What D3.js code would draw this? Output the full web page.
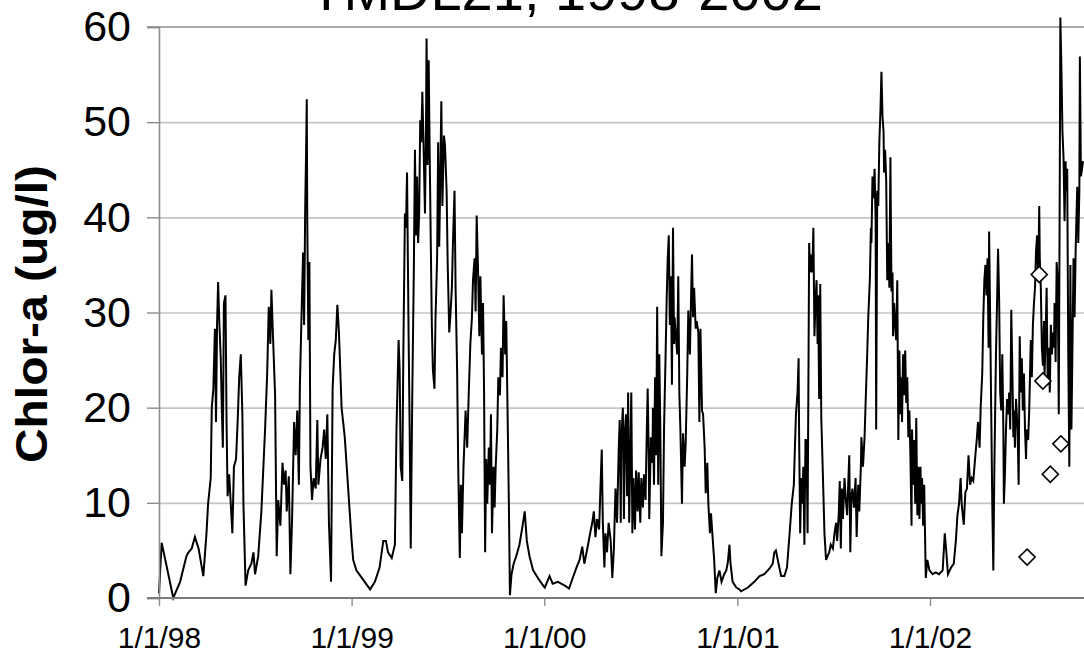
<!DOCTYPE html>
<html>
<head>
<meta charset="utf-8">
<script src="https://cdn.jsdelivr.net/npm/d3@7"></script>
<style>
	body { margin: 0; background: #fff; }
	svg { display: block; font-family: Arial, "Liberation Sans", sans-serif; }
</style>
</head>
<body>
<script>
//chlorophyll-a time series, TMDL21 station, 1998-2002
//days are counted from 1/1/98

var titleText = "TMDL21, 1998-2002";
var yLabelText = "Chlor-a (ug/l)";

var yTicks = [0, 10, 20, 30, 40, 50, 60];
var xTickYears = [1998, 1999, 2000, 2001, 2002];
var xTickLabels = ["1/1/98", "1/1/99", "1/1/00", "1/1/01", "1/1/02"];

//modelled series (line)
var seriesDays = [
	0,5,15,27,40,52,56,62,68,75,
	84,90,93,98,100,103,106,108,110,112,
	114,117,119,121,123,126,128,130,133,136,
	139,142,146,149,152,155,158,160,164,169,
	175,179,182,188,194,201,205,208,211,213,
	216,220,223,226,230,234,237,240,242,246,
	249,252,256,259,262,265,267,270,273,275,
	277,279,280,281,283,285,287,290,293,297,
	300,302,306,310,313,316,319,322,326,329,
	332,335,338,341,346,352,358,365,
	368,374,387,400,409,418,425,430,434,441,
	447,450,454,456,458,461,463,466,468,470,
	473,475,477,480,483,485,487,489,491,493,
	495,497,499,501,504,506,507,509,511,513,
	515,517,519,522,524,527,529,531,533,535,
	537,540,542,545,547,550,552,555,557,560,
	562,565,567,570,572,574,577,581,584,587,
	590,593,595,598,600,602,605,607,609,612,
	614,616,618,620,622,625,627,629,631,634,
	636,638,641,643,646,648,651,653,656,658,
	660,663,665,668,672,677,683,689,693,697,
	702,709,718,728,
	731,740,746,756,762,769,777,784,791,797,
	802,806,813,817,821,824,827,830,834,836,
	839,841,844,846,849,852,856,859,862,865,
	868,871,873,875,876,879,881,883,885,887,
	889,891,893,895,897,899,902,904,907,909,
	912,914,917,919,922,924,926,928,929,932,
	935,936,938,940,942,944,946,948,950,952,
	955,957,960,962,964,966,968,970,972,974,
	976,977,980,982,984,986,988,991,993,996,
	998,1001,1003,1006,1008,1010,1012,1014,1017,1019,
	1022,1024,1026,1029,1031,1034,1036,1039,1041,1044,
	1046,1049,1052,1055,1058,1062,1066,1071,1075,1078,
	1081,1083,1087,1094,1100,
	1103,1116,1128,1138,1147,1157,1163,1166,1169,1174,
	1179,1185,1190,1195,1199,1203,1205,1207,1210,1212,
	1213,1215,1217,1219,1221,1223,1225,1227,1229,1231,
	1232,1234,1236,1238,1240,1242,1244,1246,1248,1249,
	1251,1253,1255,1258,1261,1264,1267,1270,1273,1277,
	1280,1283,1285,1288,1290,1292,1294,1296,1299,1301,
	1304,1306,1308,1310,1312,1314,1317,1320,1322,1325,
	1327,1330,1331,1334,1337,1339,1342,1344,1347,1349,
	1350,1352,1354,1356,1358,1359,1361,1363,1365,1367,
	1369,1371,1373,1374,1376,1378,1380,1382,1384,1386,
	1388,1390,1391,1393,1395,1397,1399,1401,1403,1405,
	1407,1408,1410,1412,1414,1416,1418,1420,1422,1424,
	1426,1427,1429,1431,1433,1435,1437,1439,1441,1443,
	1444,1446,1448,
	1450,1453,1456,1460,1466,1472,1478,1485,1489,1492,
	1495,1501,1506,1510,1513,1516,1519,1521,1525,1528,
	1531,1534,1537,1540,1543,1547,1550,1552,1555,1557,
	1560,1562,1564,1566,1568,1570,1572,1573,1575,1577,
	1579,1581,1583,1584,1586,1588,1590,1592,1594,1596,
	1598,1600,1601,1603,1605,1607,1609,1611,1613,1615,
	1617,1619,1620,1622,1624,1627,1629,1631,1633,1635,
	1637,1639,1641,1643,1644,1647,1649,1652,1654,1656,
	1658,1660,1662,1664,1666,1668,1669,1671,1673,1675,
	1677,1678,1680,1682,1684,1686,1688,1690,1692,1694,
	1696,1697,1699,1701,1703,1705,1707,1708,1710,1712,
	1714,1716,1718,1719,1721,1723,1725,1727,1729,1731,
	1733,1735,1737,1738,1740,1742,1744,1745,1747,1749,
	1751
];

var seriesValues = [
	0.5,5.8,3.2,0,1.7,4.4,4.8,5.2,6.4,5.2,
	2.3,6.8,9.9,12.6,20,22,28.3,18.5,28.7,33.2,
	29.5,25.2,20,15.8,31,31.8,18.5,10.7,13,9.9,
	6.8,13.8,14.6,18.5,23.2,25.6,19.3,9.9,1.3,2.9,
	3.6,4.8,2.5,4.4,9.1,17.7,23.6,30.6,26.7,32.4,
	27.5,21.3,4.4,10.3,7.6,14.2,11.9,13.4,9.1,12.8,
	2.5,7.9,18.5,15,19.7,11.9,22.4,29.5,36.3,28.7,
	40.8,47.9,52.4,39.3,27.1,35.3,13.8,10.3,12.6,11.5,
	18.7,11.9,14.6,15.8,17.7,14.6,19.3,7.9,1.7,22,
	25.6,27.1,30.8,27.9,20,16.9,11.9,6,
	4,2.9,1.9,0.9,1.7,3.2,6,6,4.8,4.2,
	5.6,17.7,27.1,24,13.8,12.3,25.6,40.4,38.9,44.7,
	27.5,17.7,5.2,21.6,35,47.1,38.1,44.3,37.3,40.4,
	50.2,47.9,53.2,48.3,40.4,49.8,58.8,45.5,56.5,46.3,
	37.3,28.7,24,22,29.5,35.7,47.9,36.9,43.9,52.2,
	41.2,48.6,47.5,42.8,35.3,27.9,29.5,32.6,37.3,42.8,
	32.6,23.6,13.8,4.2,11.9,6.8,13.8,19.7,15.8,21.6,
	26.7,29.5,33.4,35.7,30.1,40.2,33.4,27.5,33.8,25.6,
	31,21.6,4.8,14.6,9.9,15.8,11.9,19.3,6.8,13.8,
	9.5,13.8,17.7,23.2,21.3,26.3,23.2,31.8,25.6,29.1,
	21.6,9.9,0.3,2.5,3.6,4.4,5.6,7.6,9.1,6,
	4.4,2.9,2.1,1.3,
	1.1,2.3,1.5,1.7,1.5,1.3,1,2.1,3.2,4,
	5.4,3.6,5.6,6.8,7.9,9.1,6.4,8.3,7.2,10.7,
	15.6,7.9,3.2,6.8,4.8,7.9,6,2.1,5.2,11.5,
	7.9,15.4,18.7,7.9,16.6,20,8.3,17.7,19.3,10.7,
	21.6,7.9,14.6,21.6,6.8,12.6,7.2,13.4,9.1,13.2,
	7.9,12.6,9.5,13,10.3,16.6,22,15,8.3,16.9,
	14.2,20,11.9,23.2,15,30.6,11.9,25.6,17.7,4.4,
	7.9,17.7,25.6,31.4,35.7,38.1,28.7,33.8,22.4,38.9,
	26.7,29.5,27.1,25.6,33.8,21.6,17.7,9.9,17.3,13.8,
	16.2,23.6,30.2,25.6,31,36.1,29.5,32.6,28.3,29.1,
	27.9,18.5,28.3,19.7,19.3,15.8,11,14.2,9.9,6.8,
	8.9,6.4,4,0.5,2.1,2.9,1.7,2.5,2.9,3.8,
	5.6,3.6,1.7,1.1,0.9,
	0.7,1.1,1.7,2.3,2.5,3.1,3.6,4.8,5,3.6,
	2.3,2.3,3.2,6.8,9.9,11.9,15.8,19.3,21.6,25.2,
	16.9,6.8,12.6,9.9,13.8,5.6,16.6,16.6,6.8,26.7,
	37.3,34.2,36.1,34.2,38.9,27.5,31,33.4,26.7,31.8,
	20.9,33,18.9,13,6.8,4,4.4,4.8,5.6,5.2,
	6.8,7.9,6,8.7,12.3,5.2,11.5,8.3,12.6,10.7,
	8.7,11.9,15,4.8,10.7,11.5,9.5,12.6,6.4,11.9,
	9.1,13.8,16.9,13.8,16.9,20.5,25.6,29.5,33.4,38.9,
	37.3,44.3,42,45.1,39.6,17.7,42.8,41.2,47.9,51,
	55.3,50.6,49,44.7,47.1,43.9,33.4,37.3,32.6,46.3,
	32.2,34.2,27.5,31,28.7,27.1,33.4,16.6,26,19.3,
	23.2,18.5,25.6,21.3,26,20.5,23.2,16.9,19.7,14.6,
	7.6,17.7,11.9,16.6,9.9,18.9,8.7,13.8,8.3,13.8,
	9.9,12.6,7.6,
	11.9,2.1,4,2.9,2.5,2.7,2.5,2.9,6.8,4.8,
	2.5,3.2,3.6,6,8.7,9.9,12.6,9.9,7.7,11.1,
	11.5,15,11.9,12.6,12.3,15,16.9,18.5,15.8,20,
	23.6,29.5,33.4,35,31.8,35.7,26.3,38.5,29.5,19.7,
	9.9,2.9,13.8,17.7,25.6,31,36.7,31.4,21.6,19.7,
	25.6,17.7,9.9,13,17.7,20.9,19.3,21.6,17.7,30.3,
	24,16.9,19.7,15.8,20.9,17.7,11.9,27.5,21.6,25.2,
	19.7,23.6,17.7,14.6,17.7,16.6,19.7,27.1,23.2,28.7,
	31,32.6,36.5,38.1,33.4,41.2,35.7,32.6,26.3,24.4,
	29.1,23.2,27.5,32.6,22.4,26.3,21.6,28.7,25.6,27.9,
	26.3,31,24.8,35.3,33.4,19.3,45.1,61,55.7,49,
	46.3,39.6,45.9,42.8,45.1,25.6,13.8,35,17.7,26.7,
	35.7,29.5,36.5,38.9,43.2,37.3,42.8,56.9,44.3,45.1,
	45.9
];

//field samples (diamonds)
var sampleDays = [1645, 1668, 1675, 1689, 1709];
var sampleValues = [4.3, 34, 22.8, 13, 16.2];

//frame
var width = 1084,
	height = 654,
	plotLeft = 159,
	plotRight = 1100,
	plotTop = 27,
	plotBottom = 598;

var startTime = Date.UTC(1998, 0, 1);

function dayToDate(d){
	return new Date(startTime + d * 864e5);
}

window.onload = setChart;

function setChart(){

	var svg = d3.select("body")
		.append("svg")
		.attr("width", width)
		.attr("height", height);

	var x = d3.scaleUtc()
		.domain([new Date(Date.UTC(1998, 0, 1)), new Date(Date.UTC(2002, 0, 1))])
		.range([plotLeft, 930]);

	var y = d3.scaleLinear()
		.domain([0, 60])
		.range([plotBottom, plotTop]);

	//horizontal gridlines
	var grid = svg.append("g")
		.attr("class", "grid")
		.attr("transform", "translate(" + plotLeft + ",0)")
		.call(d3.axisLeft(y)
			.tickValues(yTicks.slice(1, -1))
			.tickSize(-(plotRight - plotLeft))
			.tickFormat(""));
	grid.select(".domain").remove();
	grid.selectAll("line")
		.attr("stroke", "#c4c4c4")
		.attr("stroke-width", 1.6);

	//top frame line
	svg.append("line")
		.attr("x1", plotLeft - 12)
		.attr("x2", plotRight)
		.attr("y1", y(60))
		.attr("y2", y(60))
		.attr("stroke", "#8c8c8c")
		.attr("stroke-width", 1.6);

	//series line
	var points = seriesDays.map(function(d, i){
		return {date: dayToDate(d), value: seriesValues[i]};
	});

	var line = d3.line()
		.x(function(d){ return x(d.date); })
		.y(function(d){ return y(d.value); });

	svg.append("path")
		.datum(points)
		.attr("class", "series")
		.attr("fill", "none")
		.attr("stroke", "#000")
		.attr("stroke-width", 2)
		.attr("stroke-linejoin", "miter")
		.attr("d", line);

	//y axis
	var yAxis = svg.append("g")
		.attr("class", "axis")
		.attr("transform", "translate(" + plotLeft + ",0)")
		.call(d3.axisLeft(y)
			.tickValues(yTicks)
			.tickSize(12)
			.tickPadding(16));
	yAxis.select(".domain")
		.attr("stroke", "#8c8c8c")
		.attr("stroke-width", 1.6);
	yAxis.selectAll(".tick line")
		.attr("stroke", "#8c8c8c")
		.attr("stroke-width", 1.4);
	yAxis.selectAll("text")
		.attr("font-size", 43)
		.attr("font-family", "Arial, 'Liberation Sans', sans-serif")
		.attr("fill", "#000");

	//x axis
	var tickDates = xTickYears.map(function(yr){
		return new Date(Date.UTC(yr, 0, 1));
	});

	var xAxis = svg.append("g")
		.attr("class", "axis")
		.attr("transform", "translate(0," + plotBottom + ")")
		.call(d3.axisBottom(x)
			.tickValues(tickDates)
			.tickSize(8)
			.tickPadding(21)
			.tickFormat(function(d, i){ return xTickLabels[i]; }));
	xAxis.select(".domain").remove();
	xAxis.selectAll(".tick line")
		.attr("stroke", "#8c8c8c")
		.attr("stroke-width", 1.4);
	xAxis.selectAll("text")
		.attr("font-size", 30)
		.attr("font-family", "Arial, 'Liberation Sans', sans-serif")
		.attr("fill", "#000");

	svg.append("line")
		.attr("x1", plotLeft - 12)
		.attr("x2", plotRight)
		.attr("y1", plotBottom)
		.attr("y2", plotBottom)
		.attr("stroke", "#7a7a7a")
		.attr("stroke-width", 2);

	//sample diamonds
	var diamond = d3.symbol()
		.type(d3.symbolSquare)
		.size(130);

	svg.selectAll(".sample")
		.data(sampleDays)
		.enter()
		.append("path")
		.attr("class", "sample")
		.attr("d", diamond)
		.attr("transform", function(d, i){
			return "translate(" + x(dayToDate(d)) + "," + y(sampleValues[i]) + ")rotate(45)";
		})
		.attr("fill", "#fff")
		.attr("stroke", "#000")
		.attr("stroke-width", 1.6);

	//title (cut off by the top edge, as in the source figure)
	svg.append("text")
		.attr("class", "chartTitle")
		.attr("x", 566)
		.attr("y", 10)
		.attr("text-anchor", "middle")
		.attr("font-size", 56)
		.text(titleText);

	//y label
	svg.append("text")
		.attr("class", "yLabel")
		.attr("transform", "translate(47,314)rotate(-90)")
		.attr("text-anchor", "middle")
		.attr("font-size", 45)
		.attr("font-weight", "bold")
		.attr("textLength", 298)
		.attr("lengthAdjust", "spacingAndGlyphs")
		.text(yLabelText);
}
</script>
</body>
</html>
